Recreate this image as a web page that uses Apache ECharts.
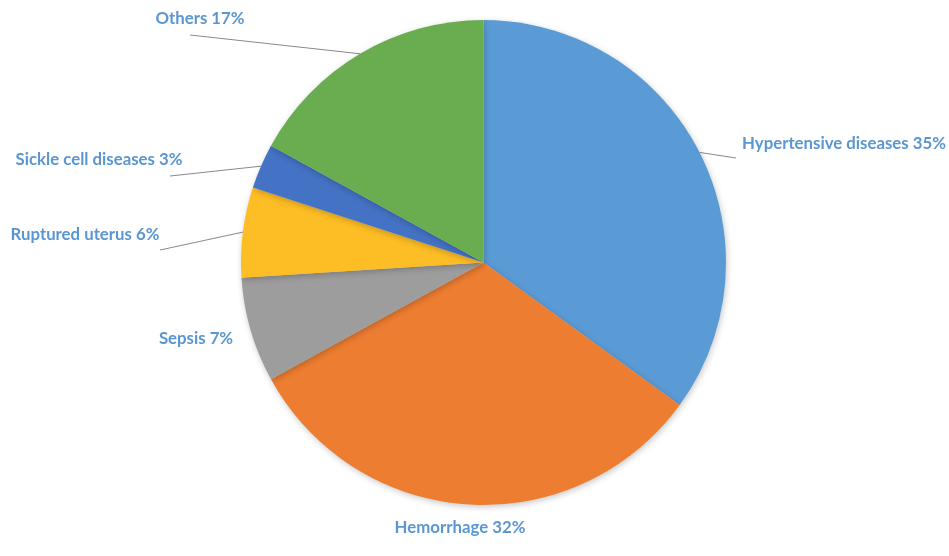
<!DOCTYPE html>
<html>
<head>
<meta charset="utf-8">
<script src="https://cdn.jsdelivr.net/npm/echarts@6/dist/echarts.min.js"></script>
<style>
  html, body { margin: 0; padding: 0; background: #ffffff; }
  #chart { width: 949px; height: 556px; }
</style>
</head>
<body>
<div id="chart"></div>
<script>
// Causes of maternal death (share, %)
const causes = ['Hypertensive diseases', 'Hemorrhage', 'Sepsis', 'Ruptured uterus', 'Sickle cell diseases', 'Others'];
const shares = [35, 32, 7, 6, 3, 17];
const sliceColors = ['#5b9bd5', '#ed7d31', '#9c9d9c', '#fdbd24', '#4472c4', '#6aac50'];

// Label placement: label centre (px) and the outer end of its leader line (null = no line)
const labelSpots = [
  { x: 844, y: 144, lineEnd: [736, 158] },
  { x: 460, y: 528, lineEnd: null },
  { x: 196, y: 339, lineEnd: null },
  { x: 85,  y: 235, lineEnd: [160, 250] },
  { x: 99,  y: 160, lineEnd: [170, 176] },
  { x: 200, y: 19,  lineEnd: [190, 35] }
];

const chart = echarts.init(document.getElementById('chart'), null, { renderer: 'canvas' });

chart.setOption({
  backgroundColor: '#ffffff',
  animation: false,
  series: [{
    type: 'pie',
    center: [483.5, 262.5],
    radius: 242.5,
    startAngle: 90,
    clockwise: true,
    data: causes.map((name, i) => ({
      name: name,
      value: shares[i],
      itemStyle: { color: sliceColors[i] },
      labelLine: { show: !!labelSpots[i].lineEnd }
    })),
    itemStyle: {
      borderWidth: 0,
      shadowBlur: 6,
      shadowOffsetX: 1,
      shadowOffsetY: 2,
      shadowColor: 'rgba(0,0,0,0.22)'
    },
    label: {
      show: true,
      formatter: p => p.name + ' ' + p.value + '%',
      color: '#5a96d1',
      fontFamily: 'Lato, "Open Sans", sans-serif',
      fontWeight: 'bold',
      fontSize: 16.8
    },
    labelLine: {
      show: true,
      length: 10,
      length2: 20,
      smooth: false,
      lineStyle: { color: '#8a8a8a', width: 1 }
    },
    labelLayout: p => {
      const s = labelSpots[p.dataIndex];
      const out = { x: s.x, y: s.y, align: 'center', verticalAlign: 'middle', moveOverlap: false, hideOverlap: false };
      if (s.lineEnd && p.labelLinePoints) {
        // start on the slice edge where the library anchors it, run straight out to the label
        const start = p.labelLinePoints[0];
        out.labelLinePoints = [start, start, s.lineEnd];
      }
      return out;
    }
  }]
});
</script>
</body>
</html>
